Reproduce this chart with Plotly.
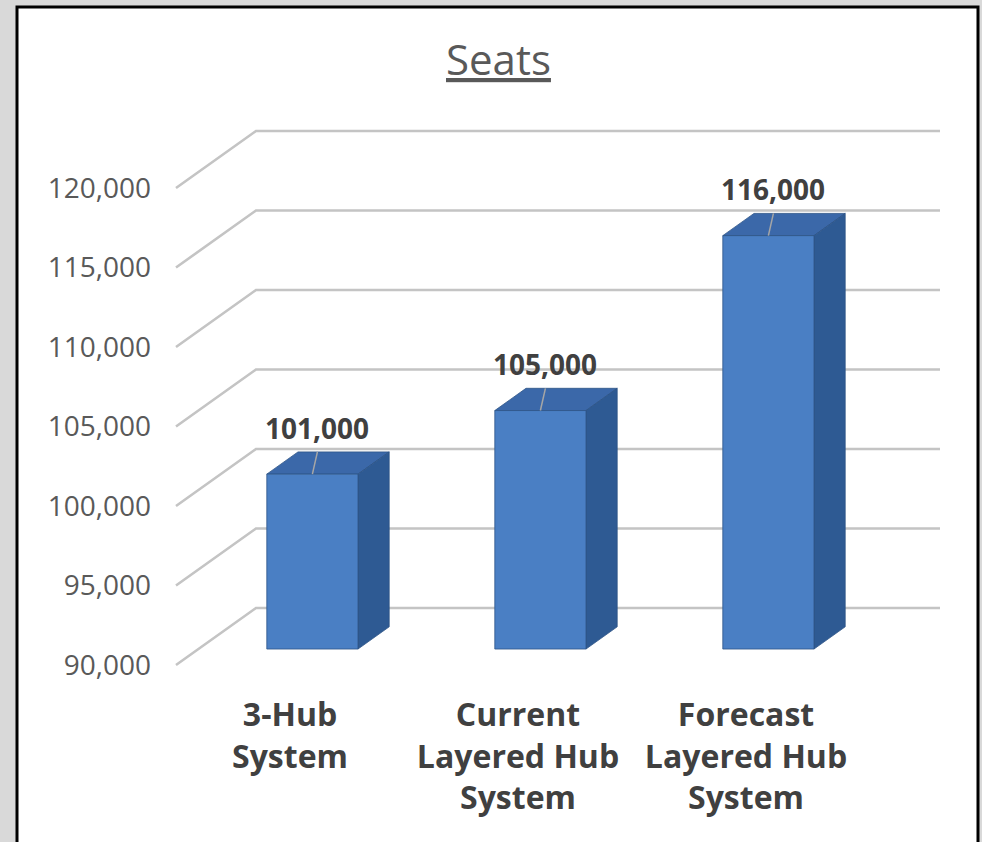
import plotly.graph_objects as go

# ---------------- data ----------------
categories = ["3-Hub<br>System", "Current<br>Layered Hub<br>System", "Forecast<br>Layered Hub<br>System"]
seats = [101000, 105000, 116000]
data_labels = ["101,000", "105,000", "116,000"]
y_ticks = [90000, 95000, 100000, 105000, 110000, 115000, 120000]
title_text = "Seats"

# ---------------- geometry / style ----------------
W, H = 982, 842
ML, MR, MT, MB = 158, 0, 0, 153
PX0, PXU = 290.0, 228.0          # px of category 0 at front plane, px per category
PY0, PYK = 665.0, 15.9           # px of base value at front plane, px per 1000
BASE = 90000
DEPTH_PX = (80.0, 57.0)          # oblique depth offset (right, up) in px
DXU = DEPTH_PX[0] / PXU
DYV = DEPTH_PX[1] / PYK * 1000
BAR_W = 0.40
D1, D2 = 0.28, 0.67

FRONT = "#4a7fc4"
SIDE = "#2e5a93"
TOP = "#3b68a9"
EDGE = "#2d5487"
GRID = "#c4c4c4"
TXT = "#595959"
TXT_B = "#404040"
FONT = "Open Sans"


def P(u, v, d):
    return u + d * DXU, v + d * DYV


def px_to_x(px):
    return (px - PX0) / PXU


def py_to_v(py):
    return BASE + (PY0 - py) / PYK * 1000


fig = go.Figure()

# gridlines: floor-side diagonal + back wall horizontal
u_left, u_right = -0.5, 2.5
for t in y_ticks:
    pts = [P(u_left, t, 0), P(u_left, t, 1), P(u_right, t, 1)]
    fig.add_trace(go.Scatter(
        x=[p[0] for p in pts], y=[p[1] for p in pts], mode="lines",
        line=dict(color=GRID, width=2.6), hoverinfo="skip", showlegend=False))


def face(pts, color):
    xs = [p[0] for p in pts] + [pts[0][0]]
    ys = [p[1] for p in pts] + [pts[0][1]]
    fig.add_trace(go.Scatter(
        x=xs, y=ys, mode="lines", fill="toself", fillcolor=color,
        line=dict(color=EDGE, width=0.8), hoverinfo="skip", showlegend=False))


for i, val in enumerate(seats):
    a, b = i - BAR_W / 2, i + BAR_W / 2
    # top face
    face([P(a, val, D1), P(b, val, D1), P(b, val, D2), P(a, val, D2)], TOP)
    # right side face
    face([P(b, BASE, D1), P(b, BASE, D2), P(b, val, D2), P(b, val, D1)], SIDE)
    # front face
    face([P(a, BASE, D1), P(b, BASE, D1), P(b, val, D1), P(a, val, D1)], FRONT)
    # leader line across the top
    p1 = P(i, val, D1)
    p2 = P(i + 0.022 - (D2 - D1) * DXU, val, D2)
    fig.add_trace(go.Scatter(
        x=[p1[0], p2[0]], y=[p1[1], p2[1]], mode="lines",
        line=dict(color="#a6a6a6", width=1.5), hoverinfo="skip", showlegend=False))
    fig.add_annotation(
        x=p2[0], y=p2[1], xref="x", yref="y", text="<b>" + data_labels[i] + "</b>",
        showarrow=False, yanchor="bottom", xanchor="center", yshift=3,
        font=dict(family=FONT, size=28, color=TXT_B))

plot_w = W - ML - MR
plot_h = H - MT - MB


def paper_x(px):
    return (px - ML) / plot_w


def paper_y(py):
    return (H - MB - py) / plot_h


fig.add_shape(type="rect", xref="paper", yref="paper",
              x0=paper_x(17), x1=paper_x(978), y0=paper_y(870), y1=paper_y(7),
              fillcolor="white", line=dict(color="black", width=3), layer="below")

fig.add_annotation(
    xref="paper", yref="paper", x=paper_x(498), y=paper_y(59), text="<u>" + title_text + "</u>",
    showarrow=False, xanchor="center", yanchor="middle",
    font=dict(family=FONT, size=42, color=TXT))

fig.update_layout(
    width=W, height=H,
    margin=dict(l=ML, r=MR, t=MT, b=MB),
    paper_bgcolor="#d9d9d9", plot_bgcolor="rgba(0,0,0,0)",
    showlegend=False,
    xaxis=dict(range=[px_to_x(ML), px_to_x(W - MR)], showgrid=False, zeroline=False,
               showline=False, ticks="", tickvals=[0, 1, 2], ticktext=categories,
               tickfont=dict(family=FONT, size=32, color=TXT_B, weight="bold"),
               ticklabelstandoff=4, fixedrange=True),
    yaxis=dict(range=[py_to_v(H - MB), py_to_v(MT)], showgrid=False, zeroline=False,
               showline=False, ticks="", tickvals=y_ticks, tickformat=",",
               tickfont=dict(family=FONT, size=28, color=TXT),
               ticklabelstandoff=6, fixedrange=True),
)

fig.write_html("out.html")
